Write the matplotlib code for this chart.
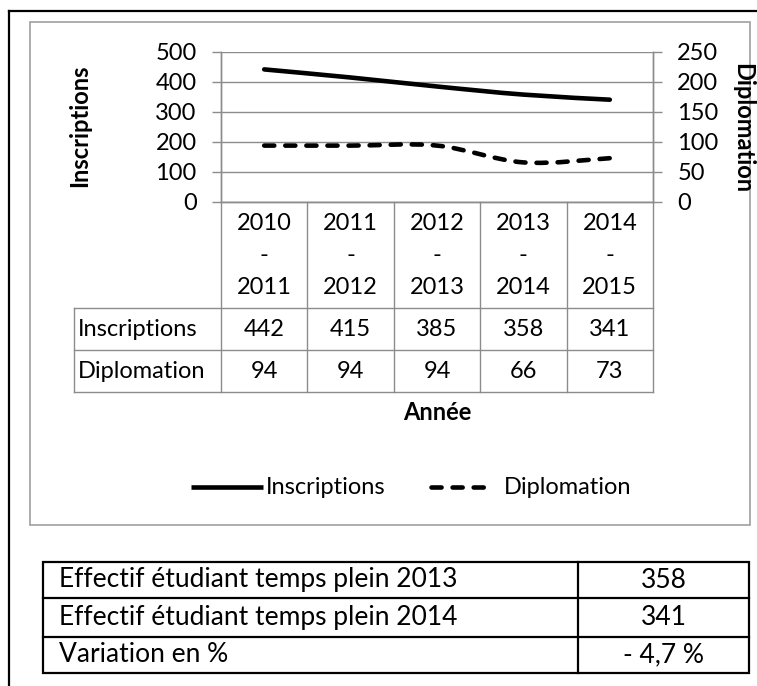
import matplotlib
matplotlib.use("Agg")
import matplotlib.pyplot as plt
from matplotlib.path import Path
from matplotlib.patches import PathPatch, Rectangle
from matplotlib.lines import Line2D
from matplotlib.transforms import blended_transform_factory
import numpy as np

# ---------------- data ----------------
categories = [("2010", "2011"), ("2011", "2012"), ("2012", "2013"), ("2013", "2014"), ("2014", "2015")]
inscriptions = [442, 415, 385, 358, 341]
diplomation = [94, 94, 94, 66, 73]
left_ticks = [0, 100, 200, 300, 400, 500]
right_ticks = [0, 50, 100, 150, 200, 250]
summary_labels = ["Effectif étudiant temps plein 2013", "Effectif étudiant temps plein 2014", "Variation en %"]
summary_values = ["358", "341", "- 4,7 %"]

W, H = 757, 686
FONT = "Lato"
plt.rcParams['font.family'] = [FONT, 'DejaVu Sans']
GRAY = "#8c8c8c"
FS = 17
FS2 = 19

fig = plt.figure(figsize=(W / 100, H / 100), dpi=100)

# overlay in pixel coordinates
ov = fig.add_axes([0, 0, 1, 1], zorder=0)
ov.set_xlim(0, W)
ov.set_ylim(H, 0)
ov.axis("off")

# plot area geometry (pixels)
PL, PR, PT, PB = 221, 653, 52, 202
ax = fig.add_axes([PL / W, 1 - PB / H, (PR - PL) / W, (PB - PT) / H], zorder=2)
ax.patch.set_visible(False)
ax2 = ax.twinx()
ax2.patch.set_visible(False)

n = len(categories)
x = np.arange(n)
ax.set_xlim(-0.5, n - 0.5)
ax.set_ylim(0, 500)
ax2.set_ylim(0, 250)
ax.set_yticks(left_ticks)
ax2.set_yticks(right_ticks)
ax.set_xticks([])
ax.yaxis.grid(True, color=GRAY, lw=1.0)
ax.set_axisbelow(True)
for a in (ax, ax2):
    for s in a.spines.values():
        s.set_color(GRAY)
        s.set_linewidth(1.0)
    a.spines["top"].set_visible(False)
ax.tick_params(axis="y", direction="out", length=6.5, width=1.0, color=GRAY, labelsize=FS, pad=11)
ax2.tick_params(axis="y", direction="out", length=6.5, width=1.0, color=GRAY, labelsize=FS, pad=11)
ax2.set_xticks([])


def smooth_path(xs, ys):
    xs = list(xs); ys = list(ys)
    px = [xs[0]] + xs + [xs[-1]]
    py = [ys[0]] + ys + [ys[-1]]
    verts = [(xs[0], ys[0])]
    codes = [Path.MOVETO]
    for i in range(1, len(xs)):
        p0 = (px[i - 1], py[i - 1]); p1 = (px[i], py[i]); p2 = (px[i + 1], py[i + 1]); p3 = (px[i + 2], py[i + 2])
        c1 = (p1[0] + (p2[0] - p0[0]) / 6, p1[1] + (p2[1] - p0[1]) / 6)
        c2 = (p2[0] - (p3[0] - p1[0]) / 6, p2[1] - (p3[1] - p1[1]) / 6)
        verts += [c1, c2, p2]
        codes += [Path.CURVE4] * 3
    return Path(verts, codes)


LW = 3.3
p1 = PathPatch(smooth_path(x, inscriptions), fill=False, edgecolor="black", lw=LW, capstyle="round", joinstyle="round")
ax.add_patch(p1)
DASH = (0, (2.2, 2.4))
p2 = PathPatch(smooth_path(x, diplomation), fill=False, edgecolor="black", lw=LW, linestyle=DASH, capstyle="round")
ax2.add_patch(p2)

# axis titles
ov.text(80, 126, "Inscriptions", rotation=90, ha="center", va="center", fontsize=FS, fontweight="bold")
ov.text(743, 128, "Diplomation", rotation=-90, ha="center", va="center", fontsize=FS, fontweight="bold")

# data table under axis
bt = blended_transform_factory(ax.transData, ov.transData)
ROW_TOP, R1, R2, R3 = 202, 308, 350, 392
for i in range(n + 1):
    ov.add_line(Line2D([i - 0.5, i - 0.5], [ROW_TOP, R3], color=GRAY, lw=1.0, transform=bt))
for yy in (R1, R2, R3):
    ov.add_line(Line2D([74, PR], [yy, yy], color=GRAY, lw=1.0))
ov.add_line(Line2D([74, 74], [R1, R3], color=GRAY, lw=1.0))
for i, (a, b) in enumerate(categories):
    ov.text(i, 223, a, transform=bt, ha="center", va="center", fontsize=FS)
    ov.text(i, 256, "-", transform=bt, ha="center", va="center", fontsize=FS)
    ov.text(i, 288, b, transform=bt, ha="center", va="center", fontsize=FS)
    ov.text(i, (R1 + R2) / 2, str(inscriptions[i]), transform=bt, ha="center", va="center", fontsize=FS)
    ov.text(i, (R2 + R3) / 2, str(diplomation[i]), transform=bt, ha="center", va="center", fontsize=FS)
ov.text(78, (R1 + R2) / 2, "Inscriptions", ha="left", va="center", fontsize=FS)
ov.text(78, (R2 + R3) / 2, "Diplomation", ha="left", va="center", fontsize=FS)

ov.text(437, 413, "Année", ha="center", va="center", fontsize=FS, fontweight="bold")

# legend
ov.add_line(Line2D([191, 263], [487, 487], color="black", lw=LW, solid_capstyle="butt"))
ov.text(266, 487, "Inscriptions", ha="left", va="center", fontsize=FS)
ov.add_line(Line2D([431, 494], [487, 487], color="black", lw=LW, linestyle=DASH, dash_capstyle="round"))
ov.text(504, 487, "Diplomation", ha="left", va="center", fontsize=FS)

# chart area border
ov.add_patch(Rectangle((30, 22), 720, 503, fill=False, edgecolor="#a0a0a0", lw=1.2))
# outer black frame
ov.add_line(Line2D([9, 9], [11, H + 5], color="black", lw=1.6))
ov.add_line(Line2D([9, W + 5], [11, 11], color="black", lw=1.6))

# summary table
TL, TR, TM = 43, 749, 578
rows = [562, 598, 637, 673]
ov.add_patch(Rectangle((TL, rows[0]), TR - TL, rows[-1] - rows[0], fill=False, edgecolor="black", lw=1.6))
for yy in rows[1:-1]:
    ov.add_line(Line2D([TL, TR], [yy, yy], color="black", lw=1.6))
ov.add_line(Line2D([TM, TM], [rows[0], rows[-1]], color="black", lw=1.6))
for k in range(3):
    yc = (rows[k] + rows[k + 1]) / 2
    ov.text(59, yc, summary_labels[k], ha="left", va="center", fontsize=FS2)
    ov.text((TM + TR) / 2, yc, summary_values[k], ha="center", va="center", fontsize=FS2)

fig.savefig("out.png", dpi=100)
